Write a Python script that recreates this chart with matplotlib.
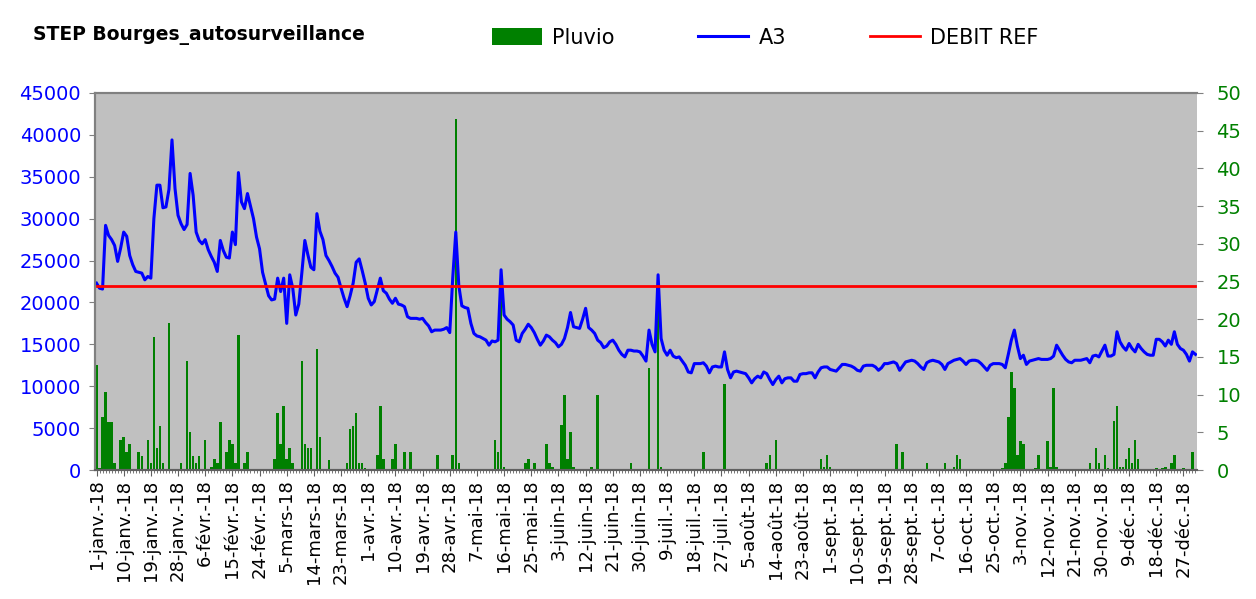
import numpy as np
import matplotlib.pyplot as plt
from matplotlib.patches import Patch
from matplotlib.lines import Line2D

# daily flow A3 (m3/j), 1 janv -> 31 dec 2018
a3 = [
    22300, 21700, 21600, 29200, 28000, 27500, 26800, 24900, 26500, 28400,
    27900, 25600, 24500, 23700, 23600, 23500, 22700, 23100, 22900, 30000,
    34000, 34000, 31300, 31400, 33500, 39400, 33600, 30400, 29400, 28700,
    29300, 35400, 32800, 28400, 27400, 27000, 27500, 26300, 25500, 24800,
    23700, 27400, 26200, 25400, 25300, 28400, 26900, 35500, 32000, 31200,
    33000, 31500, 30000, 27800, 26400, 23600, 22200, 20800, 20300, 20400,
    22900, 21300, 22900, 17500, 23300, 21700, 18500, 19800, 23500, 27400,
    25700, 24200, 23900, 30600, 28500, 27500, 25600, 25000, 24300, 23500,
    23000, 21700, 20500, 19500, 20800, 22300, 24800, 25200, 23800, 22300,
    20500, 19700, 20100, 21500, 22900, 21400, 21100, 20400, 19900, 20500,
    19800, 19700, 19500, 18300, 18100, 18100, 18100, 18000, 18100, 17600,
    17200, 16500, 16700, 16700, 16700, 16800, 17000, 16400, 23000, 28400,
    22000, 19600, 19400, 19300, 17500, 16300, 16000, 15900, 15700, 15500,
    14900, 15400, 15300, 15500, 23900, 18500, 18000, 17700, 17300, 15500,
    15300, 16300, 16800, 17400, 17000, 16400, 15600, 14900, 15400, 16100,
    15900, 15500, 15200, 14700, 15000, 15700, 17000, 18800, 17100, 17000,
    16900, 18000, 19300, 17000, 16700, 16300, 15500, 15200, 14600, 14800,
    15300, 15500, 15000, 14300, 13800, 13500, 14300, 14300, 14200, 14200,
    14100, 13600, 13000, 16700, 15000, 14100, 23300, 15700, 14300, 13700,
    14300, 13600, 13400, 13500, 13000, 12500, 11700, 11600, 12700, 12700,
    12700, 12800, 12400, 11600, 12300, 12400, 12300, 12300, 14100, 12000,
    11000, 11700, 11800, 11700, 11600, 11500, 11000, 10400, 10900, 11200,
    11000, 11700, 11500, 10800, 10200, 10800, 11200, 10400, 10900, 11000,
    11000, 10600, 10600, 11400, 11500, 11500, 11600, 11600, 11000, 11700,
    12200, 12300, 12300, 12000, 11900, 11800, 12200, 12600, 12600, 12500,
    12400, 12200, 11900, 11800, 12400, 12500, 12500, 12500, 12300, 11900,
    12200, 12700, 12700, 12800, 12900, 12700, 11900, 12400, 12900, 13000,
    13100, 13000, 12700, 12300, 12000, 12800, 13000, 13100, 13000, 12900,
    12600, 12000, 12700, 12900, 13100, 13200, 13300, 13000, 12600, 13000,
    13100, 13100, 13000, 12700, 12300, 11900, 12500, 12700, 12700, 12700,
    12600, 12200, 13800, 15500, 16700, 14800, 13300, 13700, 12600, 13000,
    13100, 13200, 13300, 13200, 13200, 13200, 13300, 13600, 14900, 14300,
    13700, 13200, 12900, 12800, 13100, 13100, 13100, 13200, 13300, 12800,
    13600, 13700, 13500, 14200, 14900, 13600, 13600, 13800, 16500, 15300,
    14700, 14300, 15100, 14500, 14100, 15000, 14500, 14100, 13800, 13700,
    13700, 15600, 15600, 15300, 14800, 15500, 15000, 16500, 15000, 14500,
    14300, 13800, 13000, 14100, 13800,
]

# rainy days (day of year) and rainfall (mm)
rain_day = [1, 2, 3, 4, 5, 6, 7, 9, 10, 11, 12, 15, 16, 18, 19, 20, 21, 22, 23, 25,
            29, 31, 32, 33, 34, 35, 37, 39, 40, 41, 42, 44, 45, 46, 47, 48, 50, 51,
            60, 61, 62, 63, 64, 65, 66, 69, 70, 71, 72, 74, 75, 78, 84, 85, 86, 87,
            88, 89, 90, 94, 95, 96, 99, 100, 103, 105, 114, 119, 120, 121, 133, 134,
            135, 136, 143, 144, 146, 150, 151, 152, 155, 156, 157, 158, 159, 165,
            167, 178, 184, 187, 188, 202, 209, 223, 224, 226, 241, 242, 243, 244,
            266, 268, 276, 282, 285, 286, 287, 301, 302, 303, 304, 305, 306, 307,
            308, 312, 313, 316, 317, 318, 319, 330, 332, 333, 335, 336, 338, 339,
            340, 341, 342, 343, 344, 345, 346, 352, 354, 355, 357, 358, 361, 364]
rain_mm = [13.9, 0.3, 7.0, 10.4, 6.4, 6.4, 0.9, 4.0, 4.4, 2.4, 3.4, 2.4, 1.9, 4.0, 0.9, 17.6, 2.9, 5.9, 0.9, 19.5,
           0.9, 14.4, 5.0, 1.9, 0.9, 1.9, 4.0, 0.4, 1.4, 0.9, 6.4, 2.4, 4.0, 3.4, 0.9, 17.9, 0.9, 2.4,
           1.4, 7.5, 3.4, 8.5, 1.4, 2.9, 0.9, 14.4, 3.4, 2.9, 2.9, 16.0, 4.4, 1.3, 0.9, 5.4, 5.9, 7.5,
           0.9, 0.9, 0.3, 2.0, 8.5, 1.5, 1.5, 3.4, 2.4, 2.4, 2.0, 2.0, 46.6, 0.9, 4.0, 2.4,
           25.0, 0.4, 0.9, 1.5, 0.9, 3.4, 0.9, 0.4, 6.0, 9.9, 1.5, 5.0, 0.4, 0.4,
           9.9, 0.9, 13.5, 22.0, 0.4, 2.4, 11.4, 0.9, 2.0, 4.0, 1.5, 0.4, 2.0, 0.4,
           3.4, 2.4, 0.9, 0.9, 0.4, 2.0, 1.5, 0.3, 0.9, 7.0, 13.0, 10.9, 2.0, 3.9,
           3.4, 0.3, 2.0, 3.9, 0.4, 10.9, 0.4, 0.9, 2.9, 0.9, 2.0, 0.3, 6.5, 8.5,
           0.4, 0.4, 1.5, 2.9, 0.9, 4.0, 1.5, 0.3, 0.3, 0.4, 0.9, 2.0, 0.3, 2.4]

debit_ref = 22000

tick_days = [1, 10, 19, 28, 37, 46, 55, 64, 73, 82, 91, 100, 109, 118, 127, 136, 145,
             154, 163, 172, 181, 190, 199, 208, 217, 226, 235, 244, 253, 262, 271,
             280, 289, 298, 307, 316, 325, 334, 343, 352, 361]
tick_labels = ['1-janv.-18', '10-janv.-18', '19-janv.-18', '28-janv.-18', '6-févr.-18',
               '15-févr.-18', '24-févr.-18', '5-mars-18', '14-mars-18', '23-mars-18',
               '1-avr.-18', '10-avr.-18', '19-avr.-18', '28-avr.-18', '7-mai-18',
               '16-mai-18', '25-mai-18', '3-juin-18', '12-juin-18', '21-juin-18',
               '30-juin-18', '9-juil.-18', '18-juil.-18', '27-juil.-18', '5-août-18',
               '14-août-18', '23-août-18', '1-sept.-18', '10-sept.-18', '19-sept.-18',
               '28-sept.-18', '7-oct.-18', '16-oct.-18', '25-oct.-18', '3-nov.-18',
               '12-nov.-18', '21-nov.-18', '30-nov.-18', '9-déc.-18', '18-déc.-18',
               '27-déc.-18']

days = np.arange(1, len(a3) + 1)
rain = np.zeros(len(a3))
rain[np.array(rain_day) - 1] = rain_mm

fig = plt.figure(figsize=(12.56, 5.99), dpi=100)
ax = fig.add_axes([95 / 1256, 129 / 599, 1102 / 1256, 377 / 599])
ax2 = ax.twinx()

# bars on the right axis, behind the flow lines
ax.set_zorder(ax2.get_zorder() + 1)
ax.patch.set_visible(False)
ax2.patch.set_visible(True)
ax2.set_facecolor('#C0C0C0')

ax2.bar(days, rain, width=0.85, color='#008000', linewidth=0)
ax.plot(days, a3, color='#0000FF', lw=2.2)
ax.plot(days, np.full(len(days), debit_ref), color='#FF0000', lw=2.0)

ax.set_xlim(0.5, len(a3) + 0.5)
ax.set_ylim(0, 45000)
ax2.set_ylim(0, 50)
ax.set_yticks(np.arange(0, 45001, 5000))
ax2.set_yticks(np.arange(0, 51, 5))

ax.set_xticks(tick_days)
ax.set_xticklabels(tick_labels, rotation=90, fontsize=13)
ax.set_xticks(days, minor=True)
ax.tick_params(axis='x', which='major', length=4, color='#606060', pad=3)
ax.tick_params(axis='x', which='minor', length=2, color='#606060')
ax.tick_params(axis='y', length=4, color='#808080', labelcolor='#0000FF', labelsize=14, pad=6)
ax2.tick_params(axis='y', length=4, color='#808080', labelcolor='#008000', labelsize=14, pad=10)

for a in (ax, ax2):
    a.spines['right'].set_visible(False)
    a.spines['top'].set_color('#808080')
    a.spines['left'].set_color('#808080')
    a.spines['bottom'].set_color('#606060')
    for s in ('top', 'left', 'bottom'):
        a.spines[s].set_linewidth(1.5)

fig.text(33 / 1256, 1 - 35 / 599, 'STEP Bourges_autosurveillance',
         fontsize=13.5, fontweight='bold', va='center')

handles = [Patch(facecolor='#008000', edgecolor='none'),
           Line2D([], [], color='#0000FF', lw=2.2),
           Line2D([], [], color='#FF0000', lw=2.0)]
fig.legend(handles, ['Pluvio', 'A3', 'DEBIT REF'], loc='upper left',
           bbox_to_anchor=(492 / 1256, 1 - 28 / 599), ncol=3, frameon=False,
           fontsize=15, handlelength=2.4, handleheight=0.9, handletextpad=0.5,
           columnspacing=4.0, borderpad=0, borderaxespad=0)

fig.savefig('out.png', dpi=100)
